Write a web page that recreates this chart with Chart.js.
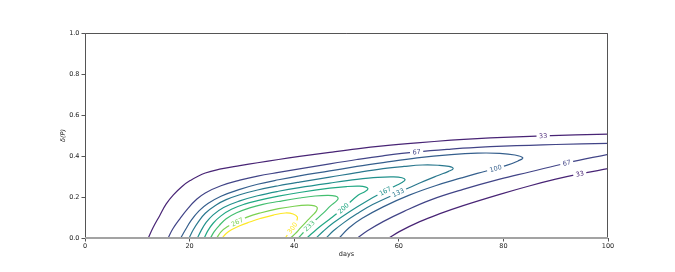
<!DOCTYPE html>
<html>
<head>
<meta charset="utf-8">
<script src="https://cdn.jsdelivr.net/npm/chart.js@4"></script>
<style>
  html, body { margin: 0; padding: 0; background: #fff; }
</style>
</head>
<body>
<canvas id="contour" width="675" height="272"></canvas>
<script>
// contour levels (values shown on the inline labels)
const levels = [0, 33, 67, 100, 133, 167, 200, 233, 267, 300];

// contour paths, [days, delta(P)]
const c0 = [[0, 1], [100, 1]];
const c33a = [[12.1, 0], [13, 0.05], [14.3, 0.11], [15.5, 0.165], [16.9, 0.21], [18.5, 0.25], [20.1, 0.28], [23, 0.317], [26, 0.337], [29.6, 0.353], [33, 0.367], [37, 0.383], [41, 0.398], [46.8, 0.418], [52, 0.435], [57, 0.449], [63.5, 0.464], [70, 0.477], [75, 0.485], [80, 0.491], [87.6, 0.498], [100, 0.507]];
const c33b = [[58.1, 0], [60, 0.03], [64, 0.08], [68, 0.12], [72.3, 0.158], [79.3, 0.213], [85.1, 0.255], [90, 0.287], [94.6, 0.313], [100, 0.338]];
const c67a = [[15.9, 0], [16.8, 0.045], [18.2, 0.096], [19.7, 0.145], [21.4, 0.19], [23, 0.22], [26, 0.255], [29.6, 0.282], [33, 0.302], [37, 0.32], [41, 0.337], [46.8, 0.362], [52, 0.383], [57, 0.401], [63.4, 0.42], [70, 0.434], [75, 0.442], [80, 0.448], [85, 0.452], [90, 0.456], [100, 0.462]];
const c67b = [[52.1, 0], [54, 0.035], [57, 0.08], [61, 0.13], [66, 0.185], [72.3, 0.237], [79.3, 0.287], [85, 0.322], [92.1, 0.366], [100, 0.408]];
const c100 = [[18.3, 0], [19.2, 0.04], [20.3, 0.086], [21.8, 0.132], [23.5, 0.168], [26, 0.204], [29.6, 0.237], [33, 0.262], [37, 0.284], [41, 0.303], [46.8, 0.327], [52, 0.349], [57, 0.368], [63.5, 0.391], [70, 0.407], [75, 0.414], [79.3, 0.413], [82.2, 0.405], [83.7, 0.391], [82.8, 0.376], [80.6, 0.354], [78.5, 0.339], [75, 0.315], [72, 0.293], [67, 0.255], [62, 0.209], [57, 0.152], [53, 0.096], [50.5, 0.05], [48.6, 0]];
const c133 = [[19.9, 0], [20.7, 0.04], [21.7, 0.08], [23, 0.121], [25, 0.16], [27, 0.187], [29.6, 0.211], [33, 0.234], [37, 0.255], [41, 0.273], [46.8, 0.297], [52, 0.319], [57, 0.338], [61, 0.349], [64.5, 0.356], [67.5, 0.355], [69.6, 0.349], [70.4, 0.338], [69.5, 0.325], [67.5, 0.305], [64, 0.268], [59.9, 0.221], [55, 0.163], [52, 0.118], [49.5, 0.075], [47.5, 0.035], [46.1, 0]];
const c167 = [[21.5, 0], [22.2, 0.036], [23.2, 0.077], [24.5, 0.113], [26.5, 0.149], [29.6, 0.181], [33, 0.206], [37, 0.228], [41, 0.246], [46.8, 0.268], [52, 0.286], [56, 0.296], [59, 0.298], [60.6, 0.294], [61.2, 0.285], [60.7, 0.272], [59.5, 0.256], [57.4, 0.229], [54, 0.182], [50.5, 0.127], [47.5, 0.074], [45.6, 0.034], [44.2, 0]];
const c200 = [[22.8, 0], [23.5, 0.036], [24.5, 0.072], [26, 0.108], [28, 0.14], [30.5, 0.165], [33, 0.182], [37, 0.204], [41, 0.222], [46.8, 0.243], [50, 0.251], [52.5, 0.253], [53.7, 0.248], [54.1, 0.24], [53.5, 0.226], [52.2, 0.209], [49.4, 0.145], [47, 0.096], [45, 0.057], [43.6, 0.027], [42.4, 0]];
const c233 = [[24, 0], [24.7, 0.031], [25.7, 0.062], [27, 0.094], [29, 0.123], [31.5, 0.147], [34, 0.164], [37, 0.178], [41, 0.195], [44, 0.205], [46.5, 0.208], [47.9, 0.204], [48.4, 0.195], [48.1, 0.181], [47, 0.158], [45.5, 0.12], [44.2, 0.09], [42.9, 0.059], [41.8, 0.028], [40.8, 0]];
const c267 = [[25.2, 0], [26, 0.03], [27.2, 0.055], [29.1, 0.078], [31, 0.102], [33.5, 0.122], [37, 0.143], [40, 0.155], [42.5, 0.16], [43.9, 0.157], [44.4, 0.148], [44.2, 0.13], [43.4, 0.108], [42.3, 0.079], [41.2, 0.049], [40.2, 0.021], [39.3, 0]];
const c300 = [[26.2, 0], [27, 0.022], [28, 0.04], [29.6, 0.06], [31.5, 0.078], [33.5, 0.095], [36, 0.112], [38.3, 0.122], [39.8, 0.117], [40.6, 0.102], [40.4, 0.08], [39.9, 0.058], [39.1, 0.03], [38.3, 0]];

const paths = [c0, c33a, c33b, c67a, c67b, c100, c133, c167, c200, c233, c267, c300];
const pathLevel = [0, 33, 33, 67, 67, 100, 133, 167, 200, 233, 267, 300];

// inline labels: which path, and where on it
const labelPath = [1, 3, 5, 4, 2, 6, 7, 8, 9, 10, 11];
const labelX = [87.6, 63.4, 78.5, 92.1, 94.6, 59.9, 57.4, 49.4, 42.9, 29.1, 39.6];
const labelY = [0.498, 0.421, 0.339, 0.366, 0.313, 0.221, 0.229, 0.145, 0.059, 0.078, 0.05];

// viridis sampled at the levels
const viridis = ['#440154', '#482475', '#414487', '#355f8d', '#2a788e', '#21918c', '#22a884', '#44bf70', '#7ad151', '#fde725'];
const colorOf = lv => viridis[levels.indexOf(lv)];
const FONT = '"DejaVu Sans", sans-serif';

const datasets = paths.map((p, i) => ({
  data: p.map(([x, y]) => ({ x: x, y: y })),
  showLine: true,
  borderColor: colorOf(pathLevel[i]),
  borderWidth: 1.2,
  pointRadius: 0,
  tension: 0.4,
  fill: false
}));

const contourLabels = {
  id: 'contourLabels',
  afterDatasetsDraw(chart) {
    const ctx = chart.ctx, xs = chart.scales.x, ys = chart.scales.y;
    ctx.save();
    ctx.font = '6.5px ' + FONT;
    ctx.textAlign = 'center';
    ctx.textBaseline = 'middle';
    labelPath.forEach((pi, i) => {
      const pts = paths[pi].map(([x, y]) => [xs.getPixelForValue(x), ys.getPixelForValue(y)]);
      const px = xs.getPixelForValue(labelX[i]), py = ys.getPixelForValue(labelY[i]);
      let best = null;
      for (let k = 0; k < pts.length - 1; k++) {
        const [ax, ay] = pts[k], [bx, by] = pts[k + 1];
        const dx = bx - ax, dy = by - ay;
        let u = ((px - ax) * dx + (py - ay) * dy) / (dx * dx + dy * dy);
        u = Math.max(0, Math.min(1, u));
        const qx = ax + u * dx, qy = ay + u * dy;
        const d = (qx - px) ** 2 + (qy - py) ** 2;
        if (!best || d < best.d) best = { d, qx, qy, a: Math.atan2(dy, dx) };
      }
      let a = best.a;
      if (a > Math.PI / 2) a -= Math.PI;
      if (a < -Math.PI / 2) a += Math.PI;
      const t = String(pathLevel[pi]);
      ctx.save();
      ctx.translate(best.qx, best.qy);
      ctx.rotate(a);
      const w = ctx.measureText(t).width + 5;
      ctx.fillStyle = '#fff';
      ctx.fillRect(-w / 2, -3, w, 6);
      ctx.fillStyle = colorOf(pathLevel[pi]);
      ctx.fillText(t, 0, 0.5);
      ctx.restore();
    });
    ctx.restore();
  }
};

const frame = {
  id: 'frame',
  afterDraw(chart) {
    const ctx = chart.ctx, a = chart.chartArea;
    ctx.save();
    ctx.strokeStyle = '#555';
    ctx.lineWidth = 1;
    ctx.beginPath();
    ctx.moveTo(a.left + 0.5, a.bottom);
    ctx.lineTo(a.left + 0.5, a.top + 0.5);
    ctx.lineTo(a.right - 0.5, a.top + 0.5);
    ctx.lineTo(a.right - 0.5, a.bottom);
    ctx.stroke();
    ctx.strokeStyle = '#a3a3a3';
    ctx.lineWidth = 2.2;
    ctx.beginPath();
    ctx.moveTo(a.left, a.bottom);
    ctx.lineTo(a.right, a.bottom);
    ctx.stroke();

    ctx.fillStyle = '#222';
    ctx.textAlign = 'center';
    ctx.textBaseline = 'middle';
    ctx.font = '6.5px ' + FONT;
    ctx.fillText('days', (a.left + a.right) / 2, 254);
    ctx.translate(63, (a.top + a.bottom) / 2);
    ctx.rotate(-Math.PI / 2);
    ctx.font = 'italic 6.5px ' + FONT;
    ctx.fillText('δ(P)', 0, 0);
    ctx.restore();
  }
};

new Chart(document.getElementById('contour'), {
  type: 'scatter',
  data: { datasets: datasets },
  options: {
    responsive: false,
    animation: false,
    layout: { padding: { left: 0, right: 67, top: 33, bottom: 0 } },
    plugins: { legend: { display: false }, tooltip: { enabled: false } },
    scales: {
      x: {
        type: 'linear', min: 0, max: 100,
        ticks: { stepSize: 20, padding: 1, maxRotation: 0, color: '#222', font: { family: FONT, size: 6.5 } },
        grid: { drawOnChartArea: false, drawTicks: true, tickLength: 3.5, color: '#555' },
        border: { display: false },
        afterFit(s) { s.height = 34; }
      },
      y: {
        type: 'linear', min: 0, max: 1,
        ticks: { stepSize: 0.2, padding: 2, color: '#222', font: { family: FONT, size: 6.5 }, callback: v => v.toFixed(1) },
        grid: { drawOnChartArea: false, drawTicks: true, tickLength: 3.5, color: '#555' },
        border: { display: false },
        afterFit(s) { s.width = 85; }
      }
    }
  },
  plugins: [contourLabels, frame]
});
</script>
</body>
</html>
